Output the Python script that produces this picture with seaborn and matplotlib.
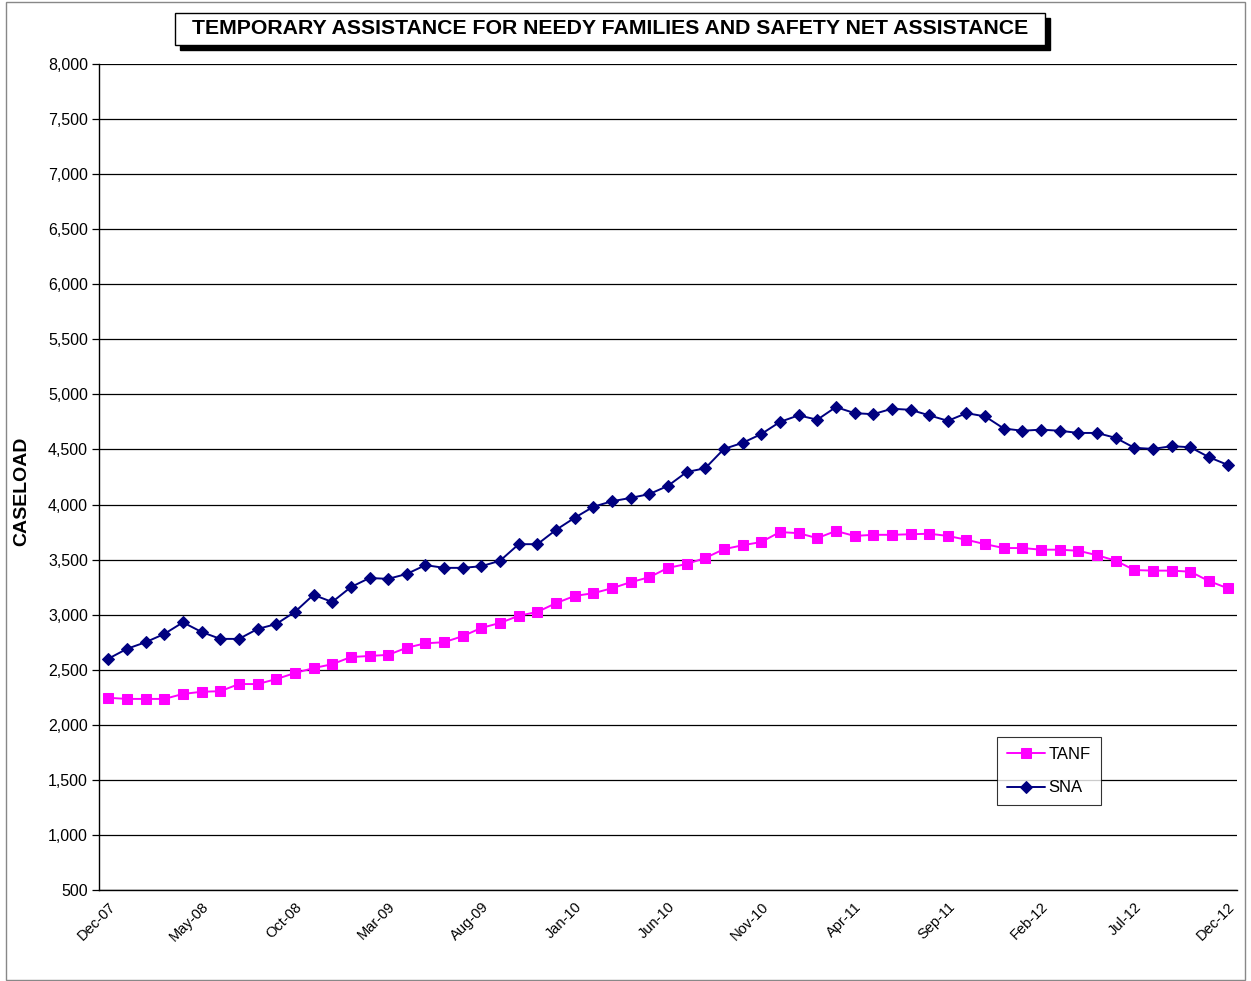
import numpy as np
import pandas as pd
import seaborn as sns
import matplotlib
matplotlib.use('Agg')
import matplotlib.pyplot as plt
from matplotlib.patches import Rectangle

# Monthly caseload, Dec-07 .. Dec-12
months = pd.date_range('2007-12-01', '2012-12-01', freq='MS').strftime('%b-%y').tolist()

tanf = [2245, 2235, 2235, 2235, 2280, 2300, 2305, 2370, 2370, 2415, 2470, 2515, 2550,
        2615, 2625, 2635, 2700, 2740, 2750, 2805, 2880, 2925, 2990, 3025, 3105,
        3170, 3195, 3240, 3295, 3340, 3425, 3460, 3515, 3595, 3630, 3660, 3750,
        3740, 3695, 3760, 3715, 3725, 3725, 3730, 3735, 3715, 3680, 3640, 3605,
        3605, 3590, 3590, 3580, 3540, 3490, 3405, 3400, 3400, 3390, 3305, 3240]

sna = [2600, 2690, 2750, 2825, 2930, 2843, 2780, 2780, 2870, 2915, 3025, 3180, 3115,
       3250, 3333, 3325, 3370, 3450, 3425, 3425, 3440, 3490, 3640, 3640, 3770,
       3880, 3980, 4030, 4060, 4095, 4170, 4295, 4330, 4505, 4560, 4640, 4750,
       4810, 4770, 4885, 4830, 4820, 4870, 4860, 4810, 4760, 4830, 4800, 4690,
       4670, 4680, 4670, 4650, 4650, 4605, 4515, 4505, 4530, 4520, 4430, 4360]

df = pd.DataFrame({'idx': np.arange(len(months)), 'month': months, 'TANF': tanf, 'SNA': sna})

sns.set_style('white')
plt.rcParams['font.family'] = ['Liberation Sans', 'DejaVu Sans']
plt.rcParams['text.color'] = 'black'
plt.rcParams['xtick.color'] = 'black'
plt.rcParams['ytick.color'] = 'black'
plt.rcParams['axes.labelcolor'] = 'black'

W, H = 1251, 981
fig = plt.figure(figsize=(W / 100, H / 100), dpi=100)
ax = fig.add_axes([99 / W, 1 - 890 / H, (1237 - 99) / W, (890 - 64) / H])

sns.lineplot(data=df, x='idx', y='TANF', ax=ax, color='#FF00FF', marker='s', markersize=7,
             markeredgecolor='#FF00FF', linewidth=1.4, label='TANF')
sns.lineplot(data=df, x='idx', y='SNA', ax=ax, color='#000080', marker='D', markersize=6,
             markeredgecolor='#000080', linewidth=1.4, label='SNA')

ax.set_xlim(-0.5, len(months) - 0.5)
ax.set_ylim(500, 8000)
ax.set_yticks(np.arange(500, 8001, 500))
ax.set_yticklabels([f'{v:,}' for v in range(500, 8001, 500)], fontsize=11.5)
ax.yaxis.grid(True, color='black', linewidth=0.9)
ax.set_axisbelow(True)

lab_pos = list(range(0, len(months), 5))
ax.set_xticks(lab_pos)
ax.set_xticklabels([months[i] for i in lab_pos], rotation=45, ha='right',
                   rotation_mode='anchor', fontsize=10.5)
ax.set_xticks(np.arange(-0.5, len(months), 1), minor=True)
ax.tick_params(axis='x', which='major', length=0, pad=7)
ax.tick_params(axis='x', which='minor', length=8, direction='inout', width=0.9, color='black')
ax.tick_params(axis='y', which='major', length=5, direction='out', width=0.9, color='black',
               left=True, pad=3)

for s in ['top', 'right']:
    ax.spines[s].set_visible(False)
for s in ['left', 'bottom']:
    ax.spines[s].set_color('black')
    ax.spines[s].set_linewidth(1.0)

ax.set_xlabel('')
ax.set_ylabel('CASELOAD', fontsize=14, fontweight='heavy')
ax.yaxis.set_label_coords((30 - 99) / (1237 - 99), (890 - 491) / (890 - 64))

leg = ax.legend(loc='upper left', bbox_to_anchor=(997 / W, 1 - 737 / H),
                bbox_transform=fig.transFigure, borderaxespad=0, frameon=True, fancybox=False,
                fontsize=12, handlelength=2.3, borderpad=0.6, labelspacing=1.1,
                handletextpad=0.2)
leg.get_frame().set_edgecolor('black')
leg.get_frame().set_linewidth(0.8)

# outer border
fig.patches.append(Rectangle((6 / W, 1 / H), (1245 - 6) / W, (979 - 1) / H,
                             transform=fig.transFigure, fill=False,
                             edgecolor='#888888', linewidth=1))
# title box with shadow
fig.patches.append(Rectangle((180 / W, 1 - 50 / H), (1050 - 180) / W, (50 - 18) / H,
                             transform=fig.transFigure, facecolor='black', edgecolor='black'))
fig.patches.append(Rectangle((175 / W, 1 - 45 / H), (1045 - 175) / W, (45 - 13) / H,
                             transform=fig.transFigure, facecolor='white', edgecolor='black',
                             linewidth=1))
fig.text(610 / W, 1 - 29 / H, 'TEMPORARY ASSISTANCE FOR NEEDY FAMILIES AND SAFETY NET ASSISTANCE',
         ha='center', va='center', fontsize=15.3, fontweight='bold')

fig.savefig('out.png', dpi=100)
